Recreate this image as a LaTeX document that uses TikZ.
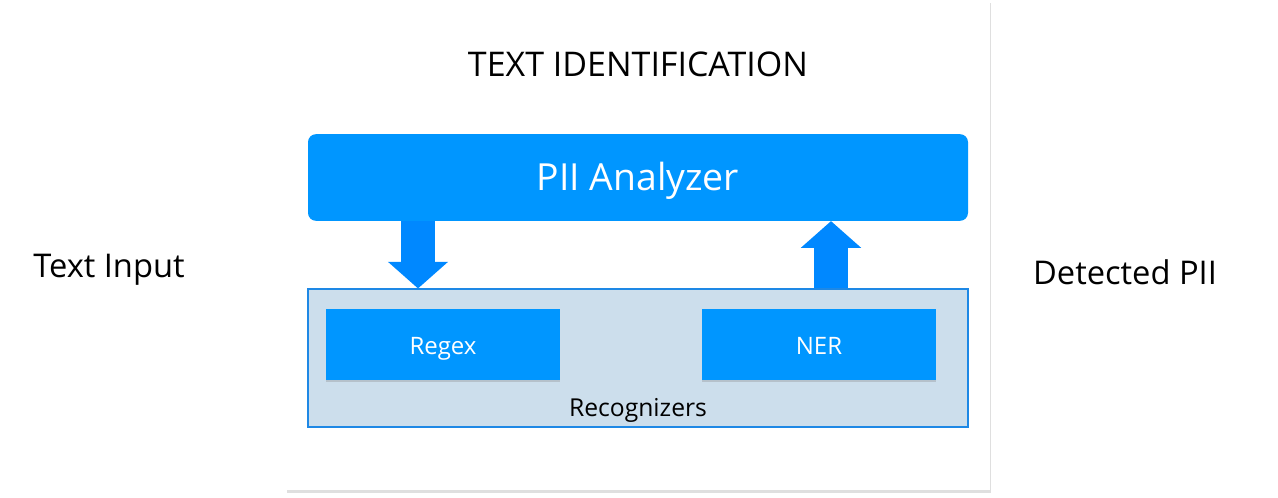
\documentclass[tikz,border=0pt]{standalone}
\usepackage{fontspec}
\setmainfont{Open Sans}
\usetikzlibrary{positioning,shadows,arrows.meta}

\definecolor{piiblue}{RGB}{0,150,255}
\definecolor{arrowblue}{RGB}{0,136,255}
\definecolor{recogfill}{RGB}{204,222,236}
\definecolor{recogline}{RGB}{30,136,229}

\tikzset{
    panel/.style={fill=white, drop shadow={shadow xshift=0.6pt, shadow yshift=-2pt, opacity=0.25}},
    analyzerbox/.style={fill=piiblue, rounded corners=6pt, minimum width=495pt, minimum height=65pt,
        text=white, text height=26pt, text depth=6.5pt, font=\fontsize{28}{32}\selectfont},
    recogbox/.style={fill=recogfill, draw=recogline, line width=0.8pt, minimum width=495pt, minimum height=103.5pt},
    engine/.style={fill=piiblue, minimum width=175.5pt, minimum height=53pt, text=white,
        text height=19pt, text depth=4pt,
        font=\fontsize{18}{21}\selectfont, drop shadow={shadow xshift=0pt, shadow yshift=-2pt, opacity=0.3}},
    sidetext/.style={font=\fontsize{24.5}{28}\selectfont},
    blockarrow/.style={draw=arrowblue, line width=25pt, -{Triangle[width=44pt,length=20pt]}}
}

\begin{document}
\begin{tikzpicture}[x=0.75pt, y=-0.75pt]
    \useasboundingbox (0,0) rectangle (1278,498);

    \fill[panel] (286,0) rectangle (990,490);

    \node (title) at (638,64) {\fontsize{25.5}{29}\selectfont TEXT IDENTIFICATION};

    \node[analyzerbox] (analyzer) at (638,177.5) {PII Analyzer};
    \node[recogbox] (recog) at (638,358) {};
    \node[engine] (regex) at (443,344.5) {Regex};
    \node[engine] (ner) at (819,344.5) {NER};
    \node (recoglabel) at (638,410) {\fontsize{18.5}{21}\selectfont Recognizers};

    \node[sidetext] (input) at (109,270) {Text Input};
    \node[sidetext] (detected) at (1125,272) {Detected PII};

    \coordinate (down) at (418,0);
    \coordinate (up) at (831,0);
    \draw[blockarrow] (analyzer.south -| down) -- (recog.north -| down);
    \draw[blockarrow] (recog.north -| up) -- (analyzer.south -| up);
\end{tikzpicture}
\end{document}
